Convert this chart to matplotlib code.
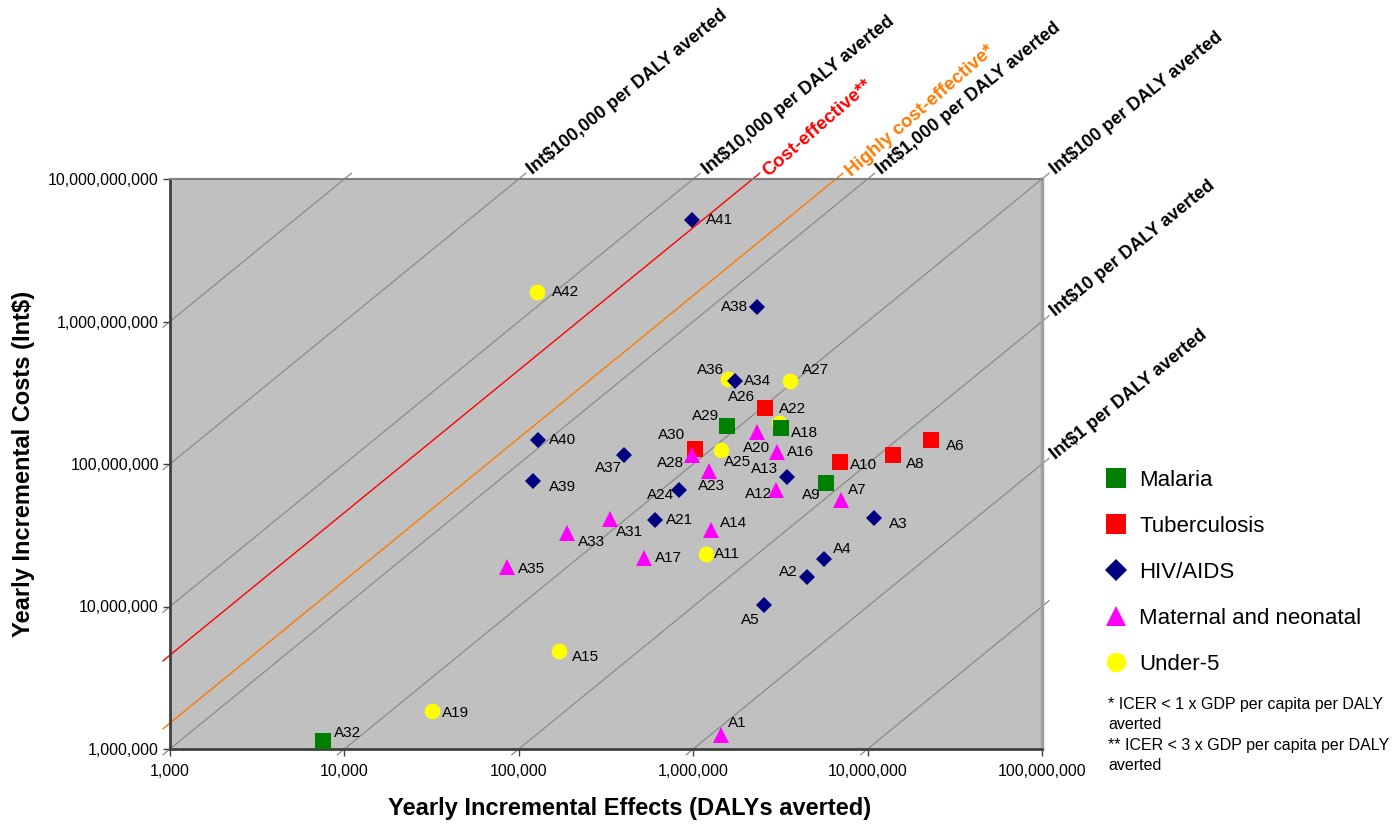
import numpy as np
import matplotlib
matplotlib.use("Agg")
import matplotlib.pyplot as plt
from matplotlib.ticker import FixedLocator, FuncFormatter, NullLocator
from matplotlib.lines import Line2D

plt.rcParams['font.family'] = ['Liberation Sans', 'DejaVu Sans']

# ---- data (yearly incremental effects in DALYs averted, costs in Int$) ----
malaria_ids = ['A9', 'A18', 'A29', 'A32']
malaria_effects = [5.8e6, 3.2e6, 1.57e6, 7.5e3]
malaria_costs = [7.3e7, 1.8e8, 1.85e8, 1.14e6]

tb_ids = ['A6', 'A8', 'A10', 'A26', 'A30']
tb_effects = [2.3e7, 1.4e7, 6.95e6, 2.58e6, 1.02e6]
tb_costs = [1.47e8, 1.16e8, 1.03e8, 2.46e8, 1.27e8]

hiv_ids = ['A2', 'A3', 'A4', 'A5', 'A13', 'A21', 'A24', 'A34', 'A37', 'A38', 'A39', 'A40', 'A41']
hiv_effects = [4.5e6, 1.09e7, 5.6e6, 2.55e6, 3.44e6, 6.0e5, 8.3e5, 1.74e6, 4.0e5, 2.32e6, 1.21e5, 1.29e5, 9.8e5]
hiv_costs = [1.6e7, 4.2e7, 2.15e7, 1.03e7, 8.15e7, 4.05e7, 6.6e7, 3.82e8, 1.16e8, 1.26e9, 7.6e7, 1.47e8, 5.15e9]

mn_ids = ['A1', 'A7', 'A12', 'A14', 'A16', 'A17', 'A20', 'A23', 'A28', 'A31', 'A33', 'A35']
mn_effects = [1.44e6, 7.0e6, 3.0e6, 1.27e6, 3.04e6, 5.25e5, 2.31e6, 1.24e6, 9.9e5, 3.34e5, 1.88e5, 8.6e4]
mn_costs = [1.25e6, 5.6e7, 6.6e7, 3.44e7, 1.22e8, 2.18e7, 1.67e8, 9.0e7, 1.15e8, 4.1e7, 3.3e7, 1.88e7]

u5_ids = ['A11', 'A15', 'A19', 'A22', 'A25', 'A27', 'A36', 'A42']
u5_effects = [1.18e6, 1.7e5, 3.2e4, 3.1e6, 1.45e6, 3.6e6, 1.59e6, 1.27e5]
u5_costs = [2.33e7, 4.87e6, 1.85e6, 1.95e8, 1.25e8, 3.82e8, 3.93e8, 1.61e9]

# ICER reference lines (Int$ per DALY averted)
icer_grid = [0.1, 1, 10, 100, 1000, 1e4, 1e5, 1e6]
icer_labels = {1: 'Int$1 per DALY averted', 10: 'Int$10 per DALY averted',
               100: 'Int$100 per DALY averted', 1000: 'Int$1,000 per DALY averted',
               1e4: 'Int$10,000 per DALY averted', 1e5: 'Int$100,000 per DALY averted'}
gdp_per_capita = 1520  # threshold: 1 x GDP highly, 3 x GDP cost-effective

x_ticks = [1e3, 1e4, 1e5, 1e6, 1e7, 1e8]
y_ticks = [1e6, 1e7, 1e8, 1e9, 1e10]

# label offsets in pixels (dx right, dy up) from marker centre
label_off = {
    'A1': (16, 12), 'A2': (-19, 5), 'A3': (24, -6), 'A4': (19, 10), 'A5': (-14, -15),
    'A6': (25, -6), 'A7': (17, 10), 'A8': (22, -9), 'A9': (-15, -12), 'A10': (23, -3),
    'A11': (21, 0), 'A12': (-18, -4), 'A13': (-22, 8), 'A14': (22, 7), 'A15': (27, -6),
    'A16': (23, 0), 'A17': (24, 0), 'A18': (23, -5), 'A19': (23, -2), 'A20': (0, -16),
    'A21': (25, 0), 'A22': (14, 14), 'A23': (2, -15), 'A24': (-19, -5), 'A25': (16, -12),
    'A26': (-23, 11), 'A27': (25, 11), 'A28': (-22, -8), 'A29': (-22, 10), 'A30': (-23, 14),
    'A31': (19, -13), 'A32': (25, 8), 'A33': (25, -9), 'A34': (22, 0), 'A35': (24, -2),
    'A36': (-18, 9), 'A37': (-15, -13), 'A38': (-22, 0), 'A39': (29, -6), 'A40': (24, 0),
    'A41': (28, 0), 'A42': (29, 0),
}

fig = plt.figure(figsize=(13.95, 8.24), dpi=100)
ax = fig.add_axes([170 / 1395, 75 / 824, 872 / 1395, 570 / 824])
ax.set_xscale('log')
ax.set_yscale('log')
ax.set_xlim(1e3, 1e8)
ax.set_ylim(1e6, 1e10)
ax.set_facecolor('#c0c0c0')


def icer_segment(k, ext=0.04):
    lk = np.log10(k)
    x0 = max(3, 6 - lk) - ext
    x1 = min(8, 10 - lk) + ext
    xs = np.array([x0, x1])
    return 10 ** xs, 10 ** (xs + lk)


for k in icer_grid:
    xs, ys = icer_segment(k)
    ax.plot(xs, ys, color='#8a8a8a', lw=0.9, clip_on=False, zorder=1)
    if k in icer_labels:
        ax.annotate(icer_labels[k], xy=(xs[1], ys[1]), xytext=(4, 2),
                    textcoords='offset pixels', rotation=39, rotation_mode='anchor',
                    ha='left', va='center', fontsize=13, fontweight='bold',
                    annotation_clip=False)

for mult, col, txt in [(3, '#ff0000', 'Cost-effective**'),
                       (1, '#ff7a00', 'Highly cost-effective*')]:
    xs, ys = icer_segment(mult * gdp_per_capita)
    ax.plot(xs, ys, color=col, lw=1.0, clip_on=False, zorder=2)
    ax.annotate(txt, xy=(xs[1], ys[1]), xytext=(6, 0), textcoords='offset pixels',
                rotation=41, rotation_mode='anchor', ha='left', va='center',
                fontsize=13.5, fontweight='bold', color=col, annotation_clip=False)

groups = {
    'Under-5': (u5_ids, u5_effects, u5_costs, 'o', '#ffff00', 11.3),
    'Malaria': (malaria_ids, malaria_effects, malaria_costs, 's', '#008000', 11),
    'Tuberculosis': (tb_ids, tb_effects, tb_costs, 's', '#ff0000', 11),
    'HIV/AIDS': (hiv_ids, hiv_effects, hiv_costs, 'D', '#000080', 8),
    'Maternal and neonatal': (mn_ids, mn_effects, mn_costs, '^', '#ff00ff', 11.3),
}
handles = {}
for name, (ids, ex, cy, mk, col, ms) in groups.items():
    h, = ax.plot(ex, cy, linestyle='none', marker=mk, color=col, markersize=ms,
                 markeredgewidth=0, zorder=3, label=name)
    handles[name] = h
    for i, e, c in zip(ids, ex, cy):
        ax.annotate(i, xy=(e, c), xytext=label_off[i], textcoords='offset pixels',
                    ha='center', va='center', fontsize=11, zorder=4)

fmt = FuncFormatter(lambda v, p: f"{v:,.0f}")
ax.xaxis.set_major_locator(FixedLocator(x_ticks))
ax.yaxis.set_major_locator(FixedLocator(y_ticks))
ax.xaxis.set_minor_locator(NullLocator())
ax.yaxis.set_minor_locator(NullLocator())
ax.xaxis.set_major_formatter(fmt)
ax.yaxis.set_major_formatter(fmt)
ax.tick_params(axis='both', direction='out', length=5, width=1, color='#404040',
               labelsize=11.5)
ax.tick_params(axis='x', pad=6)
ax.tick_params(axis='y', pad=3)

for side, col, lw in [('left', '#404040', 2), ('bottom', '#404040', 2),
                      ('top', '#808080', 1.5), ('right', '#a0a0a0', 2.5)]:
    ax.spines[side].set_color(col)
    ax.spines[side].set_linewidth(lw)

ax.set_xlabel('Yearly Incremental Effects (DALYs averted)', fontsize=17, fontweight='bold')
ax.set_ylabel('Yearly Incremental Costs (Int$)', fontsize=17, fontweight='bold')
ax.xaxis.set_label_coords((630 - 170) / 872, -(808 - 749) / 570)
ax.xaxis.label.set_va('center')
ax.yaxis.set_label_coords((24 - 170) / 872, 0.5)
ax.yaxis.label.set_va('center')

order = ['Malaria', 'Tuberculosis', 'HIV/AIDS', 'Maternal and neonatal', 'Under-5']
leg_handles = [Line2D([], [], linestyle='none', marker=handles[n].get_marker(),
                      color=handles[n].get_color(), markersize=14 if n != 'HIV/AIDS' else 11,
                      markeredgewidth=0) for n in order]
ax.legend(leg_handles, order, loc='upper left', bbox_to_anchor=(1105 / 1395, 1 - 470 / 824),
          bbox_transform=fig.transFigure, frameon=False, fontsize=16, handlelength=1.0,
          handletextpad=0.55, labelspacing=1.12, borderpad=0, borderaxespad=0)

fig.text(1108 / 1395, 1 - 697 / 824,
         "* ICER < 1 x GDP per capita per DALY\naverted\n"
         "** ICER < 3 x GDP per capita per DALY\naverted",
         ha='left', va='top', fontsize=11.5, linespacing=1.45)

fig.savefig('out.png', dpi=100)
